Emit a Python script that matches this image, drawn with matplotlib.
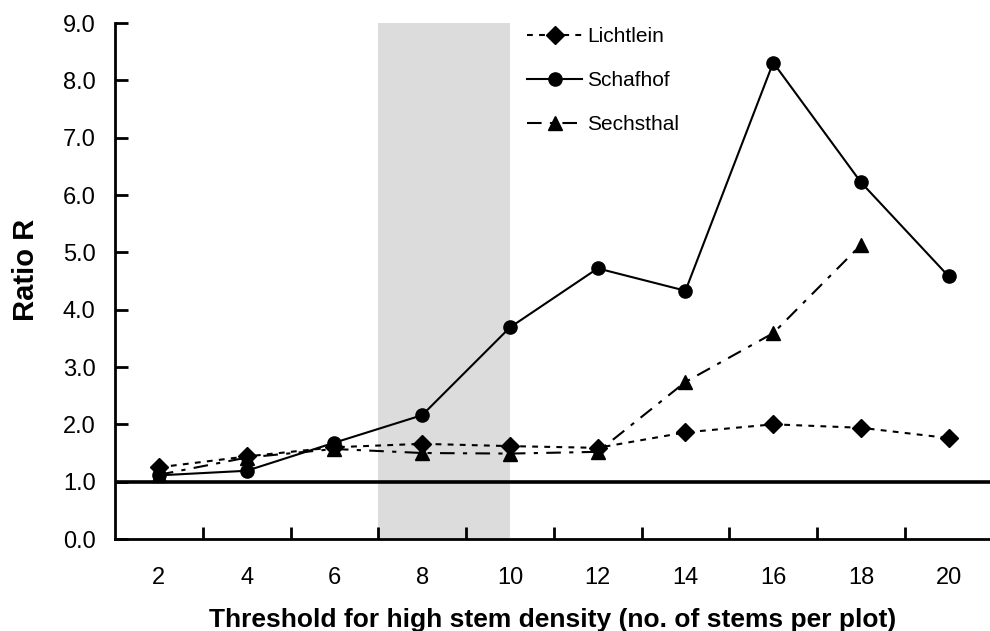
import matplotlib
matplotlib.use("Agg")
import matplotlib.pyplot as plt
import numpy as np

plt.rcParams['font.family'] = ['Liberation Sans', 'DejaVu Sans']

categories = ["2", "4", "6", "8", "10", "12", "14", "16", "18", "20"]
lichtlein = [1.25, 1.44, 1.60, 1.66, 1.62, 1.59, 1.86, 2.00, 1.94, 1.76]
schafhof = [1.11, 1.19, 1.68, 2.16, 3.69, 4.72, 4.33, 8.31, 6.22, 4.58]
sechsthal = [1.12, 1.42, 1.57, 1.50, 1.49, 1.52, 2.74, 3.59, 5.13, np.nan]
shade_span = (2.5, 4.0)
reference_level = 1.0

fig = plt.figure(figsize=(9.9, 6.31), dpi=100)
ax = fig.add_axes([115/990, 1-539/631, (990-115)/990, (539-23)/631])

x = np.arange(len(categories))
ax.axvspan(shade_span[0], shade_span[1], color='#dcdcdc', zorder=0, lw=0)
ax.axhline(reference_level, color='black', lw=2.6, zorder=1)

ax.plot(x, lichtlein, color='black', lw=1.5, ls=(0, (2.8, 3.0)), marker='D',
        markersize=9, label='Lichtlein', zorder=3)
ax.plot(x, schafhof, color='black', lw=1.5, ls='-', marker='o',
        markersize=9.5, label='Schafhof', zorder=3)
ax.plot(x, sechsthal, color='black', lw=1.5, ls=(0, (7, 4, 2, 4)), marker='^',
        markersize=9.5, label='Sechsthal', zorder=3)

ax.set_xlim(-0.5, 9.47)
ax.set_ylim(0, 9.0)
ax.set_yticks(np.arange(0, 9.01, 1.0))
ax.set_yticklabels([f"{v:.1f}" for v in np.arange(0, 9.01, 1.0)])
ax.set_xticks(x)
ax.set_xticklabels(categories)
ax.set_xticks(np.arange(0.5, 9.5, 1.0), minor=True)
ax.tick_params(axis='x', which='major', length=0, labelsize=17, pad=20)
ax.tick_params(axis='x', which='minor', direction='in', length=9, width=2)
ax.tick_params(axis='y', direction='in', length=9, width=2, labelsize=17, pad=14)

for s in ['top', 'right']:
    ax.spines[s].set_visible(False)
for s in ['left', 'bottom']:
    ax.spines[s].set_linewidth(2)

ax.set_ylabel('Ratio R', fontsize=21, fontweight='bold')
ax.yaxis.set_label_coords((40 - 115) / 875, (539 - 270) / 516)
ax.set_xlabel('Threshold for high stem density (no. of stems per plot)',
              fontsize=19, fontweight='bold', labelpad=14)

leg = ax.legend(loc='upper left', bbox_to_anchor=(527/990, 1-27/631),
                bbox_transform=fig.transFigure, frameon=False, fontsize=15,
                handlelength=2.64, handletextpad=0.25, labelspacing=1.2,
                borderpad=0, borderaxespad=0)

fig.savefig('out.png', dpi=100)
